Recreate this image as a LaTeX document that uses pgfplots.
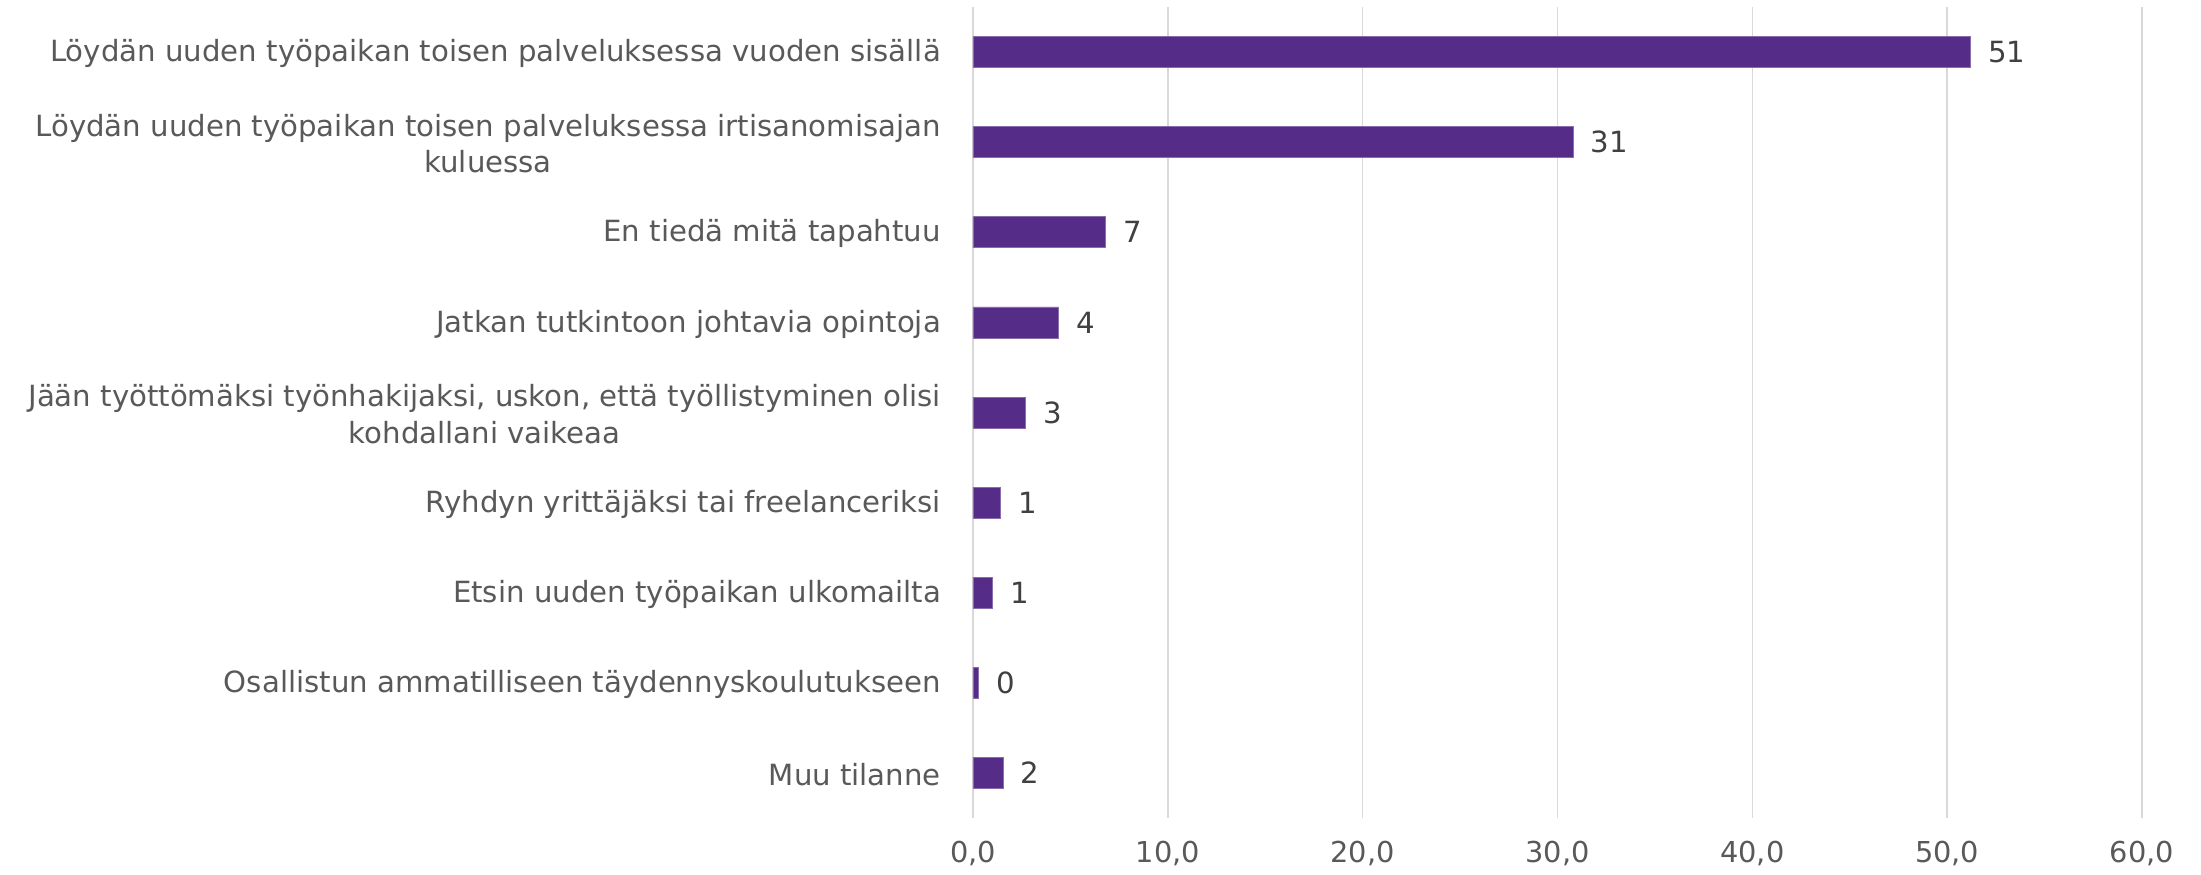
\documentclass[border=0pt]{standalone}
\usepackage{fontspec}
\setmainfont{DejaVu Sans}
\usepackage{pgfplots}
\pgfplotsset{compat=1.18}
\definecolor{barc}{RGB}{85,45,137}
\definecolor{txt}{RGB}{89,89,89}
\definecolor{gridc}{RGB}{217,217,217}

\begin{document}
\begin{tikzpicture}
\begin{axis}[
    xbar,
    scale only axis,
    width=292.25pt, height=202.75pt,
    xmin=0, xmax=60,
    ymin=-0.5, ymax=8.5,
    y dir=reverse,
    bar width=7.75pt,
    ytick={0,...,8},
    yticklabels={
        Löydän uuden työpaikan toisen palveluksessa vuoden sisällä,
        Löydän uuden työpaikan toisen palveluksessa irtisanomisajan\\kuluessa,
        En tiedä mitä tapahtuu,
        Jatkan tutkintoon johtavia opintoja,
        {Jään työttömäksi työnhakijaksi, uskon, että työllistyminen olisi\\kohdallani vaikeaa},
        Ryhdyn yrittäjäksi tai freelanceriksi,
        Etsin uuden työpaikan ulkomailta,
        Osallistun ammatilliseen täydennyskoulutukseen,
        Muu tilanne},
    yticklabel style={align=center, font=\fontsize{7.3}{9.1}\selectfont, text=txt, xshift=-4.5pt, yshift=-0.4pt},
    xtick={0,10,...,60},
    xticklabel style={font=\fontsize{7.2}{9}\selectfont, text=txt, yshift=-2.2pt},
    /pgf/number format/assume math mode=true,
    /pgf/number format/.cd, fixed, fixed zerofill, precision=1, use comma, /pgfplots/.cd,
    xmajorgrids,
    grid style={gridc, line width=0.4pt},
    axis line style={draw=none},
    major tick length=0pt,
    point meta=explicit symbolic,
    nodes near coords,
    nodes near coords style={font=\fontsize{7.3}{9}\selectfont, text=black!75, anchor=west, xshift=1pt},
]
\addplot[fill=barc, draw=barc!70, line width=0.2pt] coordinates {
    (51.2,0) [51]
    (30.8,1) [31]
    (6.8,2) [7]
    (4.4,3) [4]
    (2.7,4) [3]
    (1.4,5) [1]
    (1.0,6) [1]
    (0.3,7) [0]
    (1.55,8) [2]
};
\end{axis}
\pgfresetboundingbox
\path (current axis.south west) ++(-243.25pt,-14.25pt) rectangle ++(550.25pt,218.75pt);
\end{tikzpicture}
\end{document}
